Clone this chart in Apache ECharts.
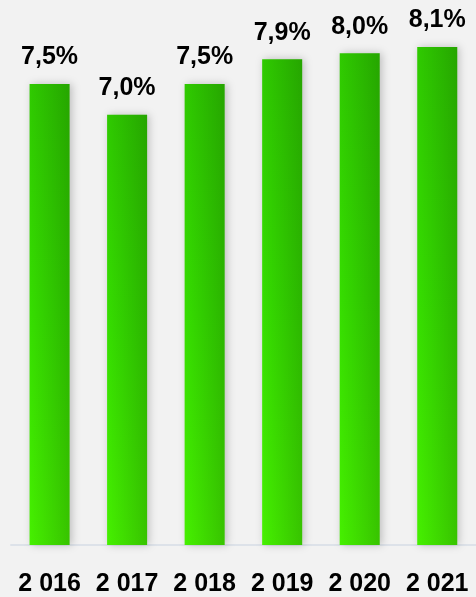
<!DOCTYPE html>
<html>
<head>
<meta charset="utf-8">
<script src="https://cdn.jsdelivr.net/npm/echarts@6/dist/echarts.min.js"></script>
<style>
html,body{margin:0;padding:0;background:#f2f2f2;}
#chart{width:476px;height:597px;}
</style>
</head>
<body>
<div id="chart"></div>
<script>
const categories = ['2 016', '2 017', '2 018', '2 019', '2 020', '2 021'];
const values = [7.5, 7.0, 7.5, 7.9, 8.0, 8.1];

const chart = echarts.init(document.getElementById('chart'));
chart.setOption({
  backgroundColor: '#f2f2f2',
  animation: false,
  grid: { left: 10.8, width: 470.4, top: 4, height: 541 },
  xAxis: {
    type: 'category',
    data: categories,
    axisLine: { show: true, lineStyle: { color: '#d6dde6', width: 1.5 } },
    axisTick: { show: false },
    axisLabel: {
      interval: 0,
      margin: 27,
      color: '#000',
      fontWeight: 'bold',
      fontSize: 25,
      fontFamily: 'Liberation Sans'
    }
  },
  yAxis: {
    type: 'value', min: 0, max: 8.8, show: false,
    splitLine: { show: false }
  },
  series: [{
    type: 'bar',
    data: values,
    barWidth: 40,
    z: 2,
    itemStyle: {
      color: new echarts.graphic.LinearGradient(0, 0, 0, 1, [
        { offset: 0, color: '#2fca00' },
        { offset: 0.5, color: '#36de00' },
        { offset: 1, color: '#46f000' }
      ]),
      shadowColor: 'rgba(0,0,0,0.22)',
      shadowBlur: 8,
      shadowOffsetX: 2,
      shadowOffsetY: 0
    },
    label: {
      show: true,
      position: 'top',
      distance: 14,
      color: '#000',
      fontWeight: 'bold',
      fontSize: 25,
      fontFamily: 'Liberation Sans',
      formatter: p => p.value.toFixed(1).replace('.', ',') + '%'
    }
  }, {
    type: 'bar',
    data: values,
    barWidth: 40,
    barGap: '-100%',
    z: 3,
    silent: true,
    itemStyle: {
      color: new echarts.graphic.LinearGradient(0, 0, 1, 0, [
        { offset: 0, color: 'rgba(0,20,0,0)' },
        { offset: 1, color: 'rgba(0,20,0,0.2)' }
      ])
    }
  }]
});
</script>
</body>
</html>
